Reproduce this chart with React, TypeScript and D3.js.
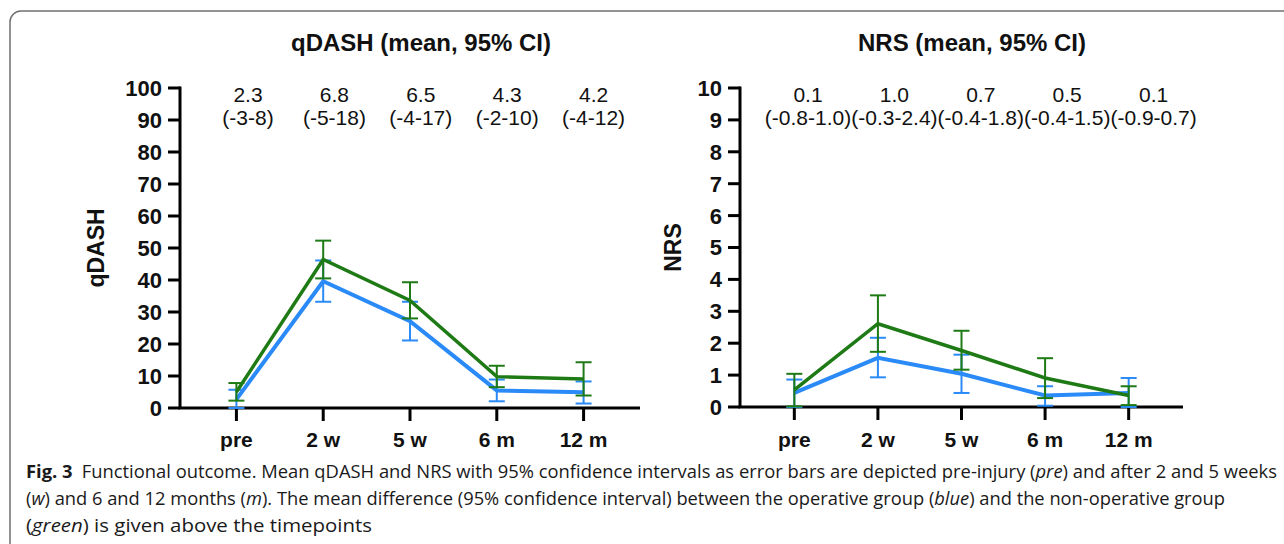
import React from "react";
import * as d3 from "d3";

// Timepoints on the x axis
const timepoints = ["pre", "2 w", "5 w", "6 m", "12 m"];

// qDASH: operative group (blue)
const qdashOperative = [2.7, 39.6, 27.1, 5.5, 4.9];
const qdashOperativeLow = [0, 33.2, 21.1, 2.1, 1.4];
const qdashOperativeHigh = [5.7, 46.1, 33.2, 8.9, 8.3];

// qDASH: non-operative group (green)
const qdashNonOperative = [5.0, 46.4, 33.6, 9.8, 9.1];
const qdashNonOperativeLow = [2.3, 40.5, 28.0, 6.5, 3.9];
const qdashNonOperativeHigh = [7.8, 52.3, 39.3, 13.2, 14.3];

// NRS: operative group (blue)
const nrsOperative = [0.44, 1.54, 1.04, 0.36, 0.44];
const nrsOperativeLow = [0, 0.93, 0.44, 0.04, 0];
const nrsOperativeHigh = [0.86, 2.17, 1.64, 0.65, 0.91];

// NRS: non-operative group (green)
const nrsNonOperative = [0.54, 2.61, 1.77, 0.91, 0.36];
const nrsNonOperativeLow = [0.02, 1.73, 1.17, 0.28, 0.06];
const nrsNonOperativeHigh = [1.04, 3.5, 2.39, 1.53, 0.65];

// Mean difference (95% CI) printed above each timepoint
const qdashDiff = ["2.3", "6.8", "6.5", "4.3", "4.2"];
const qdashDiffCI = ["(-3-8)", "(-5-18)", "(-4-17)", "(-2-10)", "(-4-12)"];
const nrsDiff = ["0.1", "1.0", "0.7", "0.5", "0.1"];
const nrsDiffCI = ["(-0.8-1.0)", "(-0.3-2.4)", "(-0.4-1.8)", "(-0.4-1.5)", "(-0.9-0.7)"];

// Axis ticks
const qdashTicks = d3.range(0, 101, 10);
const nrsTicks = d3.range(0, 11, 1);

const BLUE = "#2a8af7";
const GREEN = "#1e7a14";
const FONT = "'Liberation Sans', Arial, Helvetica, sans-serif";

type Series = { mean: number[]; low: number[]; high: number[]; color: string; width: number };

type PanelProps = {
  title: string;
  titleX: number;
  axisTitle: string;
  axisTitleX: number;
  left: number;
  right: number;
  top: number;
  bottom: number;
  max: number;
  ticks: number[];
  diff: string[];
  diffCI: string[];
  series: Series[];
};

function Panel(p: PanelProps) {
  const x = d3.scalePoint<string>().domain(timepoints).range([p.left, p.right]).padding(0.65);
  const y = d3.scaleLinear().domain([0, p.max]).range([p.bottom, p.top]);
  const labelX = d3.scaleLinear().domain([0, 4]).range([p.left + 68, p.left + 68 + 4 * 86.4]);
  const line = d3
    .line<number>()
    .x((_, i) => x(timepoints[i]) as number)
    .y((d) => y(d));
  const cap = 8;

  return (
    <g>
      <text x={p.titleX} y={51} textAnchor="middle" fontFamily={FONT} fontWeight="bold" fontSize={24} fill="#111">
        {p.title}
      </text>
      <text
        transform={`translate(${p.axisTitleX},${(p.top + p.bottom) / 2}) rotate(-90)`}
        textAnchor="middle"
        fontFamily={FONT}
        fontWeight="bold"
        fontSize={23}
        fill="#111"
      >
        {p.axisTitle}
      </text>

      {/* difference labels */}
      {p.diff.map((d, i) => (
        <g key={"d" + i} fontFamily={FONT} fontSize={21} fill="#111" textAnchor="middle">
          <text x={labelX(i)} y={102}>{d}</text>
          <text x={labelX(i)} y={125}>{p.diffCI[i]}</text>
        </g>
      ))}

      {/* y axis */}
      <line x1={p.left} x2={p.left} y1={p.top - 1.5} y2={p.bottom} stroke="#000" strokeWidth={3} />
      {p.ticks.map((t) => (
        <g key={"t" + t}>
          <line x1={p.left - 12} x2={p.left} y1={y(t)} y2={y(t)} stroke="#000" strokeWidth={3} />
          <text
            x={p.left - 18}
            y={y(t)}
            dy="0.36em"
            textAnchor="end"
            fontFamily={FONT}
            fontWeight="bold"
            fontSize={22}
            fill="#111"
          >
            {t}
          </text>
        </g>
      ))}

      {/* x axis */}
      <line x1={p.left - 1.5} x2={p.right} y1={p.bottom} y2={p.bottom} stroke="#000" strokeWidth={3} />
      {timepoints.map((t) => (
        <g key={"x" + t}>
          <line x1={x(t)} x2={x(t)} y1={p.bottom} y2={p.bottom + 13} stroke="#000" strokeWidth={3} />
          <text
            x={x(t)}
            y={447}
            textAnchor="middle"
            fontFamily={FONT}
            fontWeight="bold"
            fontSize={21}
            fill="#111"
          >
            {t}
          </text>
        </g>
      ))}

      {/* series: error bars and mean lines */}
      {p.series.map((s, si) => (
        <g key={"s" + si}>
          {s.mean.map((_, i) => {
            const cx = x(timepoints[i]) as number;
            return (
              <g key={i} stroke={s.color} strokeWidth={2}>
                <line x1={cx} x2={cx} y1={y(s.low[i])} y2={y(s.high[i])} />
                <line x1={cx - cap} x2={cx + cap} y1={y(s.low[i])} y2={y(s.low[i])} />
                <line x1={cx - cap} x2={cx + cap} y1={y(s.high[i])} y2={y(s.high[i])} />
              </g>
            );
          })}
          <path d={line(s.mean) || ""} fill="none" stroke={s.color} strokeWidth={s.width} strokeLinejoin="miter" />
        </g>
      ))}
    </g>
  );
}

export default function App() {
  const capFont = "'Open Sans', 'DejaVu Sans', sans-serif";
  return (
    <div style={{ position: "absolute", left: 0, top: 0 }}>
      <svg width={1284} height={544} viewBox="0 0 1284 544" style={{ display: "block", background: "#fff" }}>
        <rect x={10} y={11} width={1320} height={600} rx={11} ry={11} fill="#fff" stroke="#707070" strokeWidth={1.5} />

        <Panel
          title="qDASH (mean, 95% CI)"
          titleX={421}
          axisTitle="qDASH"
          axisTitleX={104}
          left={180}
          right={640}
          top={88}
          bottom={408}
          max={100}
          ticks={qdashTicks}
          diff={qdashDiff}
          diffCI={qdashDiffCI}
          series={[
            { mean: qdashOperative, low: qdashOperativeLow, high: qdashOperativeHigh, color: BLUE, width: 4 },
            { mean: qdashNonOperative, low: qdashNonOperativeLow, high: qdashNonOperativeHigh, color: GREEN, width: 3.5 },
          ]}
        />
        <Panel
          title="NRS (mean, 95% CI)"
          titleX={972}
          axisTitle="NRS"
          axisTitleX={681}
          left={740}
          right={1183}
          top={88}
          bottom={407}
          max={10}
          ticks={nrsTicks}
          diff={nrsDiff}
          diffCI={nrsDiffCI}
          series={[
            { mean: nrsOperative, low: nrsOperativeLow, high: nrsOperativeHigh, color: BLUE, width: 4 },
            { mean: nrsNonOperative, low: nrsNonOperativeLow, high: nrsNonOperativeHigh, color: GREEN, width: 3.5 },
          ]}
        />

        {/* figure caption */}
        <g fontFamily={capFont} fontSize={18} fill="#1a1a1a">
          <text x={26} y={478} textLength={1251} lengthAdjust="spacingAndGlyphs">
            <tspan fontWeight="bold">Fig. 3</tspan>
            <tspan>{"\u2002Functional outcome. Mean qDASH and NRS with 95% confidence intervals as error bars are depicted pre-injury ("}</tspan>
            <tspan fontStyle="italic">pre</tspan>
            <tspan>) and after 2 and 5 weeks</tspan>
          </text>
          <text x={26} y={505} textLength={1199} lengthAdjust="spacingAndGlyphs">
            <tspan>(</tspan>
            <tspan fontStyle="italic">w</tspan>
            <tspan>) and 6 and 12 months (</tspan>
            <tspan fontStyle="italic">m</tspan>
            <tspan>). The mean difference (95% confidence interval) between the operative group (</tspan>
            <tspan fontStyle="italic">blue</tspan>
            <tspan>) and the non-operative group</tspan>
          </text>
          <text x={26} y={532} textLength={346} lengthAdjust="spacingAndGlyphs">
            <tspan>(</tspan>
            <tspan fontStyle="italic">green</tspan>
            <tspan>) is given above the timepoints</tspan>
          </text>
        </g>
      </svg>
    </div>
  );
}
